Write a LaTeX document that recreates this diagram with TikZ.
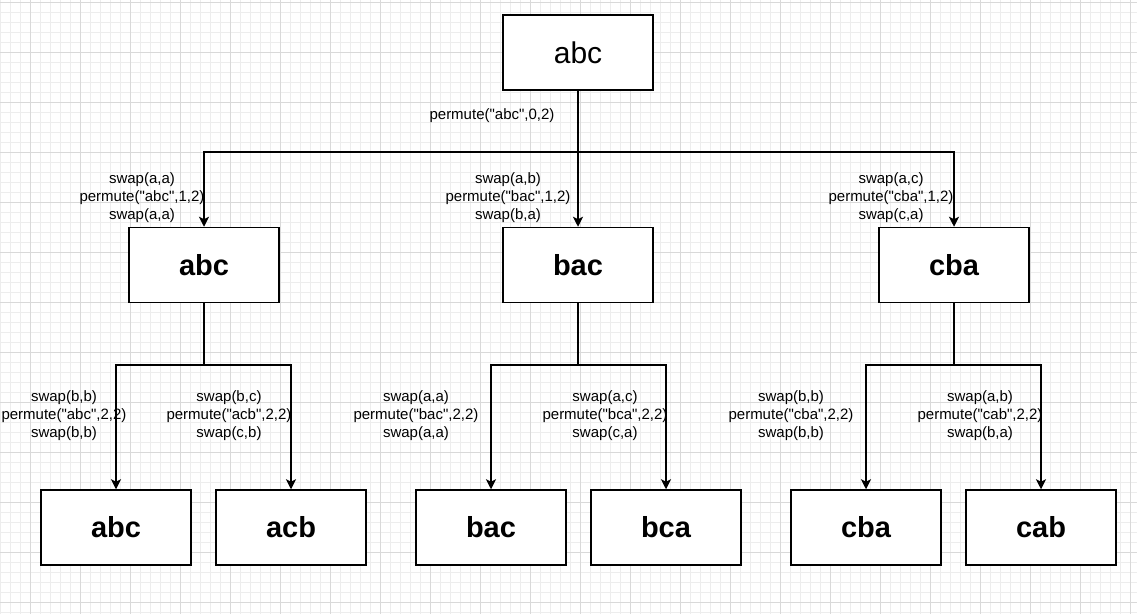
\documentclass[tikz,border=0pt]{standalone}
\usepackage{fontspec}
\setmainfont{Liberation Sans}[Ligatures=TeXOff]
\usetikzlibrary{arrows.meta,positioning}

\tikzset{
  perm/.style={draw, line width=1.5pt, fill=white, minimum width=150pt, minimum height=75pt, inner sep=0pt, font=\fontsize{29}{34}\selectfont\bfseries},
  call/.style={align=center, inner sep=0pt, font=\fontsize{15}{18}\selectfont},
  link/.style={line width=1.5pt},
  arr/.style={line width=1.5pt, -{Stealth[length=10pt,width=10pt,inset=2.5pt]}},
  minorgrid/.style={line width=0.8pt, color=black!7},
  majorgrid/.style={line width=0.8pt, color=black!15},
}

\begin{document}
\begin{tikzpicture}[x=1pt,y=-1pt]
    \useasboundingbox (0,0) rectangle (1137,614);
    \fill[white] (0,0) rectangle (1137,614);

    % background grid
    \foreach \x in {0,10,...,1130} \draw[minorgrid] (\x,0) -- (\x,614);
    \foreach \y in {2,12,...,612} \draw[minorgrid] (0,\y) -- (1137,\y);
    \foreach \x in {30,80,...,1130} \draw[majorgrid] (\x,0) -- (\x,614);
    \foreach \y in {2,52,...,602} \draw[majorgrid] (0,\y) -- (1137,\y);

    % boxes
    \node[perm, font=\fontsize{30}{36}\selectfont] (root) at (578,52.5) {abc};
    \node[perm] (abc1) at (204,265) {abc};
    \node[perm] (bac1) at (578,265) {bac};
    \node[perm] (cba1) at (954,265) {cba};

    \node[perm] (abc2) at (116,527.5) {abc};
    \node[perm] (acb2) at (291,527.5) {acb};
    \node[perm] (bac2) at (491,527.5) {bac};
    \node[perm] (bca2) at (666,527.5) {bca};
    \node[perm] (cba2) at (866,527.5) {cba};
    \node[perm] (cab2) at (1041,527.5) {cab};

    % split points
    \coordinate (s0) at (578,152);
    \coordinate (s1) at (204,365);
    \coordinate (s2) at (578,365);
    \coordinate (s3) at (954,365);

    % connectors
    \draw[link] (root) -- (s0);
    \draw[arr] (s0) -| (abc1);
    \draw[arr] (s0) -- (bac1);
    \draw[arr] (s0) -| (cba1);

    \draw[link] (abc1) -- (s1);
    \draw[arr] (s1) -| (abc2);
    \draw[arr] (s1) -| (acb2);
    \draw[link] (bac1) -- (s2);
    \draw[arr] (s2) -| (bac2);
    \draw[arr] (s2) -| (bca2);
    \draw[link] (cba1) -- (s3);
    \draw[arr] (s3) -| (cba2);
    \draw[arr] (s3) -| (cab2);

    % call labels
    \node[call] (t0) at (492,116) {permute("abc",0,2)};
    \node[call] (t1) at (142,198) {swap(a,a)\\permute("abc",1,2)\\swap(a,a)};
    \node[call] (t2) at (508,198) {swap(a,b)\\permute("bac",1,2)\\swap(b,a)};
    \node[call] (t3) at (891,198) {swap(a,c)\\permute("cba",1,2)\\swap(c,a)};

    \node[call] (t4) at (64,416) {swap(b,b)\\permute("abc",2,2)\\swap(b,b)};
    \node[call] (t5) at (229,416) {swap(b,c)\\permute("acb",2,2)\\swap(c,b)};
    \node[call] (t6) at (416,416) {swap(a,a)\\permute("bac",2,2)\\swap(a,a)};
    \node[call] (t7) at (605,416) {swap(a,c)\\permute("bca",2,2)\\swap(c,a)};
    \node[call] (t8) at (791,416) {swap(b,b)\\permute("cba",2,2)\\swap(b,b)};
    \node[call] (t9) at (980,416) {swap(a,b)\\permute("cab",2,2)\\swap(b,a)};
\end{tikzpicture}
\end{document}
